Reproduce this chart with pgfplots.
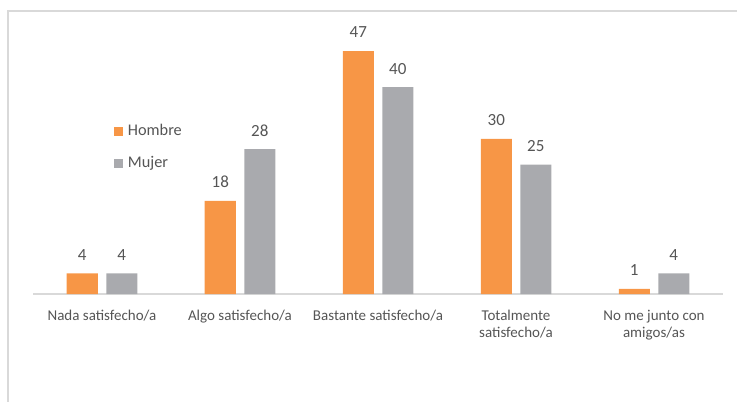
\documentclass[border=0pt]{standalone}
\usepackage{pgfplots}
\pgfplotsset{compat=1.18}
\usepackage{fontspec}
\setmainfont{Carlito}
\definecolor{orng}{HTML}{F79646}
\definecolor{gry}{HTML}{A9AAAE}
\definecolor{txt}{HTML}{555555}
\definecolor{frm}{HTML}{D9D9D9}
\begin{document}
\begin{tikzpicture}[x=1pt,y=1pt]
\useasboundingbox (0,0) rectangle (737,402);
\draw[frm, line width=1.2pt] (8,0) -- (8,391) -- (737,391);
\begin{axis}[
  at={(33pt,108pt)}, anchor=south west,
  scale only axis, width=690pt, height=258.5pt,
  xmin=-0.5, xmax=4.5, ymin=0, ymax=50,
  /pgf/number format/assume math mode=true,
  axis y line=none, axis x line*=bottom,
  x axis line style={draw=frm, line width=1.2pt, -},
  xtick={0,1,2,3,4}, xtick style={draw=none},
  xticklabels={Nada satisfecho/a, Algo satisfecho/a, Bastante satisfecho/a, {Totalmente\\satisfecho/a}, {No me junto con\\amigos/as}},
  xticklabel style={align=center, text=txt, font=\fontsize{15}{17}\selectfont, anchor=north, yshift=-8pt},
  ybar, bar width=31pt,
  nodes near coords,
  every node near coord/.append style={text=txt, font=\fontsize{17}{19}\selectfont, yshift=9.5pt},
  legend style={draw=none, fill=none, at={(0.117,0.665)}, anchor=north west, font=\fontsize{16.3}{18}\selectfont, text=txt, row sep=15pt, inner sep=0pt},
  legend cell align=left,
  legend image code/.code={\fill[#1] (0pt,-5.5pt) rectangle (9pt,3.5pt); \path (12pt,0pt);},
]
\addplot[fill=orng, draw=none, bar shift=-19.75pt] coordinates {(0,4) (1,18) (2,47) (3,30) (4,1)};
\addplot[fill=gry, draw=none, bar shift=19.75pt] coordinates {(0,4) (1,28) (2,40) (3,25) (4,4)};
\legend{Hombre, Mujer}
\end{axis}
\end{tikzpicture}
\end{document}
